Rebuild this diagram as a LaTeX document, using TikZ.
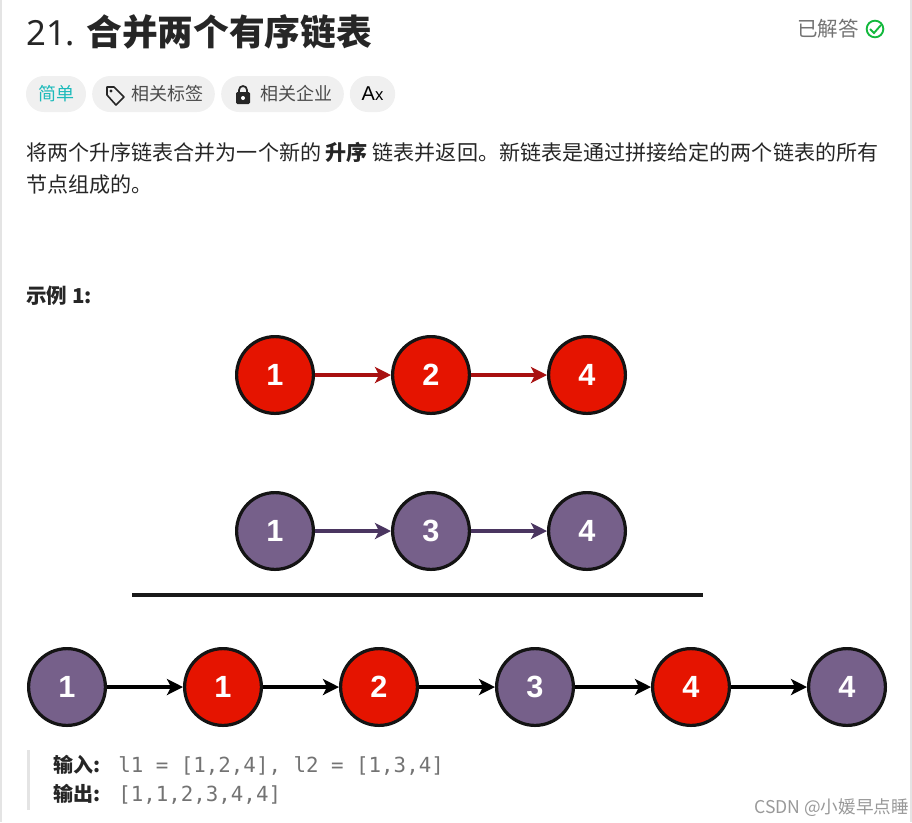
\documentclass[tikz,border=0pt]{standalone}
\usepackage{fontspec}
\setmainfont{Noto Sans CJK SC}
\setmonofont{DejaVu Sans Mono}
\newfontfamily\numfont{Liberation Sans}
\newfontfamily\headfont{Noto Sans}
\usetikzlibrary{arrows.meta, positioning}
\definecolor{redfill}{HTML}{E51400}
\definecolor{redline}{HTML}{A81010}
\definecolor{purfill}{HTML}{76608A}
\definecolor{purline}{HTML}{4A3560}
\definecolor{ink}{HTML}{262626}
\definecolor{pillgray}{HTML}{F0F0F0}
\definecolor{edgegray}{HTML}{E4E4E4}
\definecolor{tealtext}{HTML}{1CBABA}
\definecolor{okgreen}{HTML}{12B83C}
\newcommand\fs[1]{\fontsize{#1}{#1}\selectfont}
\tikzset{
  txt/.style = {inner sep=0pt, anchor=base west, text=ink},
  pill/.style = {fill=pillgray, rounded corners=13.4pt, minimum height=27pt, inner sep=0pt},
  nd/.style = {draw=black!92, circle, line width=2.4pt, minimum size=57.6pt, inner sep=0pt, text=white, font=\numfont\bfseries\fs{23}},
  rnd/.style = {nd, fill=redfill},
  pnd/.style = {nd, fill=purfill},
  lnk/.style = {line width=2.3pt, -{Stealth[length=12pt, width=12pt, inset=3pt]}},
}
\begin{document}
\begin{tikzpicture}[x=.75pt, y=-.75pt]
\useasboundingbox (0,0) rectangle (912,822);
\fill [edgegray] (0,0) rectangle (2,822);
\fill [edgegray] (910,0) rectangle (912,822);
% heading
\node[txt, font=\headfont\fs{26}] (num) at (26,45) {21.};
\node[txt, font=\bfseries\fs{26.8}] (title) at (86,45) {合并两个有序链表};
\node[txt, text=black!55, font=\fs{15.4}] (done) at (797,36) {已解答};
\node[draw=okgreen, circle, line width=1.4pt, minimum size=12.5pt, inner sep=0pt] (ok) at (875,29) {};
\draw [okgreen, line width=1.4pt] (870,29) -- (874,33) -- (881,25);
% tags
\node[pill, minimum width=45pt, text=tealtext, font=\fs{13.5}] (easy) at (56,94) {简单};
\node[pill, minimum width=92pt] (tagp) at (153.5,94) {};
\node[txt, text=black!70, font=\fs{13.5}] (tagt) at (131,100) {相关标签};
\draw [ink, line width=1.2pt, line join=round] (107,87) -- (114,87) -- (124,97) -- (116,105) -- (107,95) -- cycle;
\fill [ink] (111,91) circle (1.2pt);
\node[pill, minimum width=92pt] (lockp) at (282.5,94) {};
\node[txt, text=black!70, font=\fs{13.5}] (lockt) at (260,100) {相关企业};
\fill [ink, rounded corners=1pt] (236,92) rectangle (250,104);
\draw [ink, line width=1.3pt] (239,92) -- (239,90) arc (180:360:4) -- (247,92);
\fill [white] (243,98) circle (1.5pt);
\node[pill, minimum width=34pt] (lang) at (372.5,94) {\numfont\fs{15}A\fs{12.5}x};
% text
\node[txt, font=\fs{15.8}] (desc1) at (26,160) {将两个升序链表合并为一个新的 \textbf{升序} 链表并返回。新链表是通过拼接给定的两个链表的所有};
\node[txt, font=\fs{15.8}] (desc2) at (26,192) {节点组成的。};
\node[txt, font=\bfseries\fs{15.4}] (ex) at (26,303) {示例 1:};
% lists
\node[rnd] (r1) at (275,375) {1};
\node[rnd] (r2) at (431,375) {2};
\node[rnd] (r3) at (587,375) {4};
\node[pnd] (p1) at (275,531) {1};
\node[pnd] (p2) at (431,531) {3};
\node[pnd] (p3) at (587,531) {4};
\coordinate (ruleL) at (132,595);
\coordinate (ruleR) at (703,595);
\node[pnd] (m1) at (67,687) {1};
\node[rnd] (m2) at (223,687) {1};
\node[rnd] (m3) at (379,687) {2};
\node[pnd] (m4) at (535,687) {3};
\node[rnd] (m5) at (691,687) {4};
\node[pnd] (m6) at (847,687) {4};
\draw [lnk, redline](r1) -- (r2);
\draw [lnk, redline](r2) -- (r3);
\draw [lnk, purline](p1) -- (p2);
\draw [lnk, purline](p2) -- (p3);
\draw [line width=2.3pt, black!90](ruleL) -- (ruleR);
\draw [lnk](m1) -- (m2);
\draw [lnk](m2) -- (m3);
\draw [lnk](m3) -- (m4);
\draw [lnk](m4) -- (m5);
\draw [lnk](m5) -- (m6);
% example
\fill [edgegray] (27,750) rectangle (30,810);
\node[txt, font=\bfseries\fs{15}] (inl) at (53,772) {输入:};
\node[txt, text=black!55, font=\ttfamily\fs{15.6}] (inv) at (118,772) {l1 = [1,2,4], l2 = [1,3,4]};
\node[txt, font=\bfseries\fs{15}] (outl) at (53,801) {输出:};
\node[txt, text=black!55, font=\ttfamily\fs{15.6}] (outv) at (118,801) {[1,1,2,3,4,4]};
\node[txt, text=black!40, font=\fs{13.2}] (mark) at (754,813) {CSDN @小媛早点睡};
\end{tikzpicture}
\end{document}
